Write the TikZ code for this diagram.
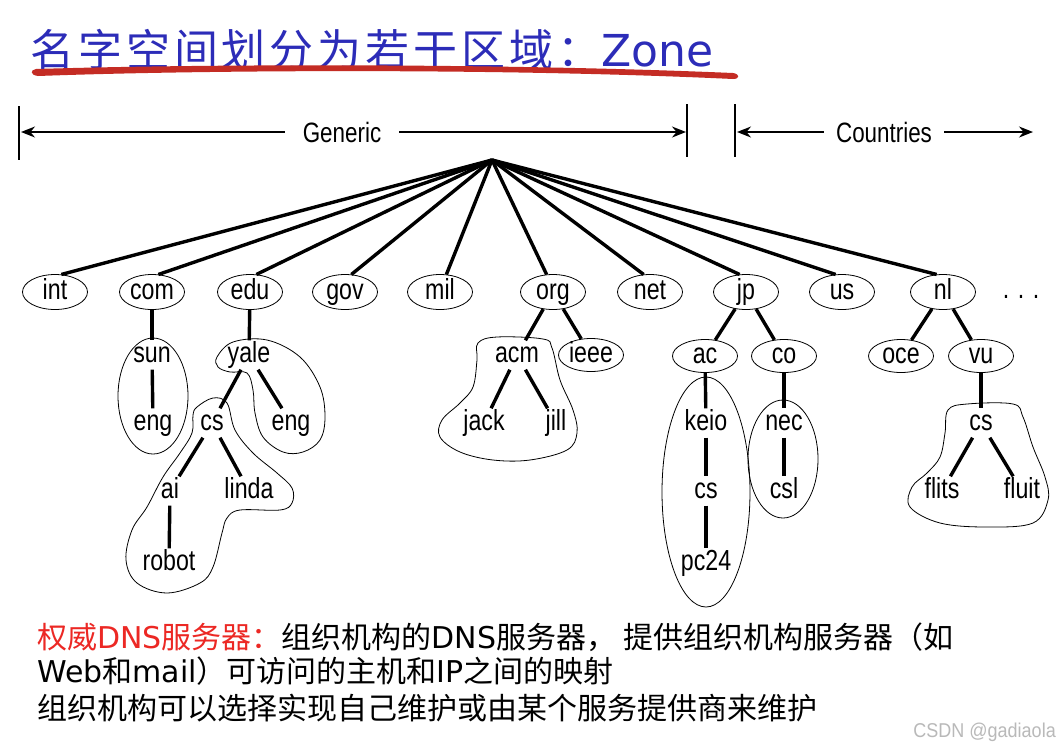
\documentclass[tikz,border=0pt]{standalone}
\usepackage{fontspec}
\setmainfont{Liberation Sans}
\newfontfamily\treefont[FakeStretch=0.8]{Liberation Sans}
\newfontfamily\wmfont[FakeStretch=0.9]{Liberation Sans}
\newfontfamily\cjk{Noto Sans CJK SC}
\newfontfamily\lat{DejaVu Sans}
\usetikzlibrary{arrows.meta,shapes.geometric}
\definecolor{titleblue}{RGB}{44,44,184}
\definecolor{brushred}{RGB}{196,44,36}
\definecolor{textred}{RGB}{236,40,36}
\definecolor{wmgray}{RGB}{185,185,185}
\tikzset{
  treetext/.style={font=\treefont\fontsize{29}{29}\selectfont, text height=20pt, text depth=5pt},
  lbl/.style={treetext, inner sep=2pt},
  tld/.style={treetext, ellipse, draw, line width=0.8pt, minimum width=65pt, minimum height=35pt, inner xsep=-8pt, inner ysep=-6pt},
  sub/.style={tld, minimum height=33pt},
  edge/.style={line width=3.4pt},
  zone/.style={line width=0.8pt},
  hdr/.style={line width=1.5pt, -{Stealth[length=14pt,width=11pt]}},
  vbar/.style={line width=1.2pt},
  hdrtext/.style={font=\treefont\fontsize{28}{28}\selectfont},
  bottomtext/.style={anchor=west, inner sep=0pt, font=\cjk\fontsize{30}{30}\selectfont}
}
\begin{document}
\begin{tikzpicture}[x=1pt,y=-1pt]
\fill[white] (0,0) rectangle (1060,748);
\useasboundingbox (0,0) rectangle (1060,748);

% title
\node[anchor=west, inner sep=0pt, text=titleblue] (title) at (30,50)
  {{\cjk\fontsize{44}{44}\selectfont\addfontfeatures{LetterSpace=9}名字空间划分为若干区域：}{\lat\fontsize{44}{44}\selectfont Zone}};
\fill[brushred] (36,69) .. controls (200,64) and (500,63) .. (733,73)
  .. controls (740,74) and (740,79) .. (733,79)
  .. controls (500,68) and (200,70) .. (38,76)
  .. controls (30,75) and (30,70) .. (36,69) -- cycle;

% header
\coordinate (v1a) at (19,106); \coordinate (v1b) at (19,160);
\coordinate (v2a) at (687,104); \coordinate (v2b) at (687,157);
\coordinate (v3a) at (735,104); \coordinate (v3b) at (735,157);
\draw[vbar] (v1a) -- (v1b);
\draw[vbar] (v2a) -- (v2b);
\draw[vbar] (v3a) -- (v3b);
\node[hdrtext, inner xsep=18pt] (generic) at (342,132) {Generic};
\node[hdrtext, inner xsep=12pt] (countries) at (884,132) {Countries};
\coordinate (gl) at (21,132); \coordinate (gr) at (686,132);
\coordinate (cl) at (737,132); \coordinate (cr) at (1033,132);
\draw[hdr] (generic.west) -- (gl);
\draw[hdr] (generic.east) -- (gr);
\draw[hdr] (countries.west) -- (cl);
\draw[hdr] (countries.east) -- (cr);

% root and top level domains
\coordinate (root) at (492,160);
\node[tld] (int) at (55,292) {int};
\node[tld] (com) at (152,292) {com};
\node[tld] (edu) at (250,292) {edu};
\node[tld] (gov) at (345,292) {gov};
\node[tld] (mil) at (440,292) {mil};
\node[tld] (org) at (553,292) {org};
\node[tld] (net) at (650,292) {net};
\node[tld] (jp) at (746,292) {jp};
\node[tld] (us) at (842,292) {us};
\node[tld] (nl) at (943,292) {nl};
\node[lbl] (dots) at (1021,291) {. . .};
\foreach \n in {int,com,edu,gov,mil} \draw[edge] (root) -- (\n.70);
\foreach \n in {org,net,jp,us,nl} \draw[edge] (root) -- (\n.110);

% lower levels
\node[lbl] (sun) at (152,355) {sun};
\node[lbl] (seng) at (153,423) {eng};
\node[lbl] (yale) at (249,355) {yale};
\node[lbl] (ycs) at (212,423) {cs};
\node[lbl] (yeng) at (291,423) {eng};
\node[lbl] (ai) at (170,491) {ai};
\node[lbl] (linda) at (249,491) {linda};
\node[lbl] (robot) at (169,563) {robot};
\node[lbl] (acm) at (517,355) {acm};
\node[sub] (ieee) at (591,355) {ieee};
\node[lbl] (jack) at (484,423) {jack};
\node[lbl] (jill) at (556,423) {jill};
\node[sub] (ac) at (705,356) {ac};
\node[sub] (co) at (784,356) {co};
\node[lbl] (keio) at (706,423) {keio};
\node[lbl] (jcs) at (706,491) {cs};
\node[lbl] (pc24) at (706,563) {pc24};
\node[lbl] (nec) at (784,423) {nec};
\node[lbl] (csl) at (784,491) {csl};
\node[sub] (oce) at (901,356) {oce};
\node[sub] (vu) at (981,356) {vu};
\node[lbl] (ncs) at (981,423) {cs};
\node[lbl] (flits) at (942,491) {flits};
\node[lbl] (fluit) at (1022,491) {fluit};

\draw[edge] (com) -- (sun);
\draw[edge] (sun) -- (seng);
\draw[edge] (edu) -- (yale);
\draw[edge] (yale) -- (ycs);
\draw[edge] (yale) -- (yeng);
\draw[edge] (ycs) -- (ai);
\draw[edge] (ycs) -- (linda);
\draw[edge] (ai) -- (robot);
\draw[edge] (org) -- (acm);
\draw[edge] (org) -- (ieee);
\draw[edge] (acm) -- (jack);
\draw[edge] (acm) -- (jill);
\draw[edge] (jp) -- (ac);
\draw[edge] (jp) -- (co);
\draw[edge] (ac) -- (keio);
\draw[edge] (keio) -- (jcs);
\draw[edge] (jcs) -- (pc24);
\draw[edge] (co) -- (nec);
\draw[edge] (nec) -- (csl);
\draw[edge] (nl) -- (oce);
\draw[edge] (nl) -- (vu);
\draw[edge] (vu) -- (ncs);
\draw[edge] (ncs) -- (flits);
\draw[edge] (ncs) -- (fluit);

% zones
\draw[zone] (153,396) ellipse [x radius=35, y radius=58];
\draw[zone] (706,492) ellipse [x radius=44, y radius=115];
\draw[zone] (783,459) ellipse [x radius=35, y radius=59];
\draw[zone] plot[smooth cycle, tension=0.6] coordinates {(217,357) (233,342) (267,340) (300,357) (320,387) (325,417) (320,440) (303,452) (283,452) (263,437) (255,413) (253,390) (247,373) (230,372) (218,367)};
\draw[zone] plot[smooth cycle, tension=0.6] coordinates {(197,407) (213,398) (227,403) (235,430) (253,453) (277,473) (292,488) (292,503) (280,510) (240,510) (227,518) (222,533) (213,567) (200,583) (167,593) (137,583) (126,560) (132,530) (147,507) (163,477) (180,453) (192,433) (193,415)};
\draw[zone] plot[smooth cycle, tension=0.6] coordinates {(478,343) (497,337) (543,339) (552,348) (560,380) (573,410) (577,433) (567,450) (530,460) (493,460) (460,452) (440,437) (442,420) (460,403) (473,387) (477,360)};
\draw[zone] plot[smooth cycle, tension=0.6] coordinates {(948,410) (967,404) (1013,404) (1023,417) (1033,447) (1045,477) (1048,500) (1033,523) (987,527) (940,523) (910,507) (912,487) (927,473) (940,457) (945,433)};

% bottom text
\node[bottomtext] (line1) at (37,637) {\textcolor{textred}{权威{\lat DNS}服务器：}组织机构的{\lat DNS}服务器， 提供组织机构服务器（如};
\node[bottomtext] (line2) at (37,671) {{\lat Web}和{\lat mail}）可访问的主机和{\lat IP}之间的映射};
\node[bottomtext] (line3) at (37,708) {组织机构可以选择实现自己维护或由某个服务提供商来维护};
\node[anchor=east, inner sep=0pt, text=wmgray, font=\wmfont\fontsize{20}{20}\selectfont] (wm) at (1056,732) {CSDN @gadiaola};
\end{tikzpicture}
\end{document}
